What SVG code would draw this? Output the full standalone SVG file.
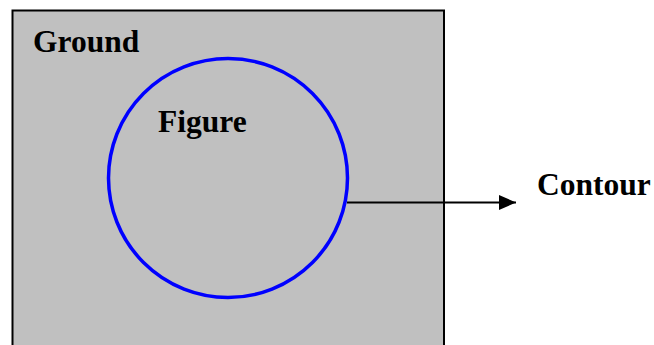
<svg xmlns="http://www.w3.org/2000/svg" width="654" height="345" viewBox="0 0 654 345">
<style>
.lbl{font-family:"Liberation Serif","Times New Roman",serif;font-weight:bold;font-size:31.5px;fill:#000}
</style>
<defs>
<marker id="ah" markerWidth="17" markerHeight="15" refX="17" refY="7.5" orient="auto" markerUnits="userSpaceOnUse">
<path d="M0,0 L17,7.5 L0,15 Z" fill="#000"/>
</marker>
</defs>
<rect width="654" height="345" fill="#fff"/>
<g id="ground">
<rect x="12.5" y="10.5" width="431.5" height="340" fill="#c0c0c0" stroke="#000" stroke-width="2"/>
<text class="lbl" x="33" y="52">Ground</text>
</g>
<g id="figure">
<circle cx="228" cy="178" r="119.5" fill="none" stroke="#0000ff" stroke-width="3.5"/>
<text class="lbl" x="158" y="132">Figure</text>
</g>
<g id="contour">
<text class="lbl" x="537" y="195">Contour</text>
</g>
<g id="connectors">
<line x1="347" y1="202.5" x2="516" y2="202.5" stroke="#000" stroke-width="2" marker-end="url(#ah)"/>
</g>
</svg>
